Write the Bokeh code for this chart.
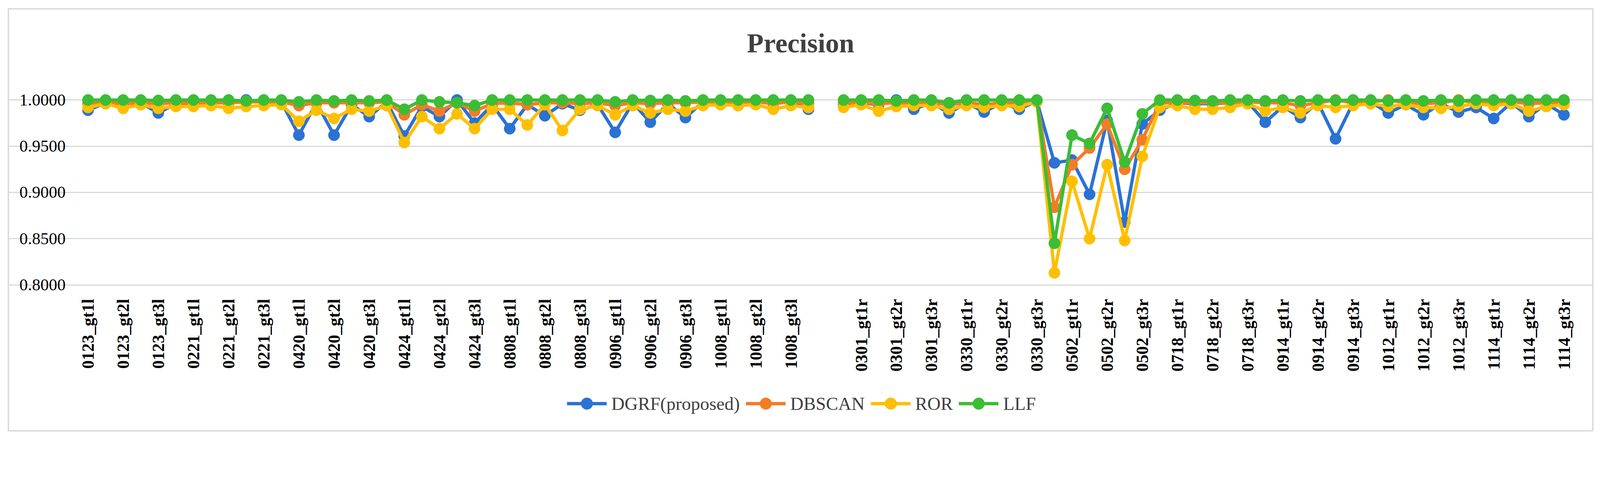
import math
import numpy as np
from bokeh.plotting import figure
from bokeh.models import (FixedTicker, Legend, LegendItem, Label, Range1d, PrintfTickFormatter)
from bokeh.embed import file_html
from bokeh.resources import INLINE

# categories (ICESat-2 tracks / beams)
dates_left = ["0123", "0221", "0420", "0424", "0808", "0906", "1008"]
dates_right = ["0301", "0330", "0502", "0718", "0914", "1012", "1114"]
beams = ["gt1l", "gt1r", "gt2l", "gt2r", "gt3l", "gt3r"]

# precision values
dgrf_left = [0.989, 0.997, 0.996, 0.997, 0.986, 0.996, 0.997, 0.997, 0.997, 1.000, 0.998, 0.998,
             0.962, 0.997, 0.962, 0.995, 0.982, 0.998, 0.961, 0.993, 0.982, 1.000, 0.975, 0.995,
             0.969, 0.995, 0.983, 0.996, 0.989, 0.995, 0.965, 0.997, 0.976, 0.996, 0.981, 0.998,
             0.998, 0.994, 0.998, 0.997, 0.998, 0.990]
dgrf_right = [0.995, 0.997, 0.995, 1.000, 0.990, 0.997, 0.986, 0.997, 0.987, 0.997, 0.990, 0.999,
              0.932, 0.935, 0.898, 0.978, 0.868, 0.974, 0.989, 0.997, 0.996, 0.996, 0.997, 0.998,
              0.976, 0.993, 0.981, 0.997, 0.958, 0.997, 0.998, 0.986, 0.995, 0.984, 0.996, 0.987,
              0.992, 0.980, 0.997, 0.982, 0.996, 0.984]

dbscan_left = [0.996, 0.997, 0.996, 0.997, 0.996, 0.997, 0.997, 0.997, 0.997, 0.998, 0.998, 0.998,
               0.994, 0.997, 0.997, 0.997, 0.997, 0.998, 0.984, 0.995, 0.988, 0.997, 0.988, 0.996,
               0.997, 0.995, 0.997, 0.997, 0.996, 0.997, 0.994, 0.997, 0.996, 0.997, 0.997, 0.998,
               0.998, 0.997, 0.998, 0.996, 0.998, 0.996]
dbscan_right = [0.997, 0.997, 0.996, 0.997, 0.996, 0.997, 0.995, 0.997, 0.995, 0.997, 0.997, 0.999,
                0.884, 0.930, 0.948, 0.974, 0.925, 0.957, 0.997, 0.997, 0.997, 0.997, 0.997, 0.998,
                0.997, 0.997, 0.994, 0.997, 1.000, 0.997, 0.998, 1.000, 0.997, 0.996, 0.997, 1.000,
                0.997, 0.997, 0.998, 0.996, 0.997, 0.997]

ror_left = [0.992, 0.996, 0.991, 0.995, 0.991, 0.993, 0.993, 0.994, 0.991, 0.993, 0.994, 0.995,
            0.977, 0.989, 0.980, 0.990, 0.988, 0.994, 0.954, 0.982, 0.969, 0.985, 0.969, 0.990,
            0.990, 0.973, 0.995, 0.967, 0.990, 0.994, 0.984, 0.994, 0.986, 0.990, 0.988, 0.994,
            0.995, 0.994, 0.995, 0.990, 0.994, 0.992]
ror_right = [0.992, 0.995, 0.988, 0.993, 0.994, 0.994, 0.990, 0.994, 0.992, 0.994, 0.993, 0.998,
             0.813, 0.912, 0.850, 0.930, 0.848, 0.939, 0.992, 0.994, 0.990, 0.990, 0.992, 0.996,
             0.988, 0.992, 0.986, 0.994, 0.992, 0.994, 0.996, 0.993, 0.995, 0.992, 0.991, 0.993,
             0.996, 0.994, 0.996, 0.988, 0.993, 0.995]

llf_left = [1.000, 1.000, 1.000, 1.000, 0.9995, 1.000, 1.000, 1.000, 1.000, 0.999, 1.000, 1.000,
            0.998, 1.000, 0.999, 1.000, 0.999, 1.000, 0.990, 1.000, 0.998, 0.997, 0.994, 1.000,
            1.000, 1.000, 1.000, 1.000, 1.000, 1.000, 0.998, 1.000, 0.9995, 1.000, 0.999, 1.000,
            1.000, 1.000, 1.000, 1.000, 1.000, 1.000]
llf_right = [1.000, 1.000, 1.000, 0.999, 1.000, 1.000, 0.997, 1.000, 1.000, 1.000, 1.000, 1.000,
             0.845, 0.962, 0.953, 0.991, 0.933, 0.985, 1.000, 1.000, 0.9995, 0.999, 1.000, 1.000,
             0.999, 1.000, 0.999, 1.000, 0.9995, 1.000, 1.000, 0.999, 1.000, 0.999, 1.000, 0.999,
             1.000, 1.000, 1.000, 1.000, 1.000, 1.000]

series_names = ["DGRF(proposed)", "DBSCAN", "ROR", "LLF"]
colors = ["#2a72d4", "#f47c26", "#ffbf00", "#3bbd35"]

y_ticks = [0.80, 0.85, 0.90, 0.95, 1.00]

# one empty slot between the two groups of tracks
categories = ([f"{d}_{b}" for d in dates_left for b in beams] + [""] +
              [f"{d}_{b}" for d in dates_right for b in beams])
x = np.arange(len(categories))
x_lo, x_hi = -0.5, len(categories) - 0.5

series = [dgrf_left + [np.nan] + dgrf_right,
          dbscan_left + [np.nan] + dbscan_right,
          ror_left + [np.nan] + ror_right,
          llf_left + [np.nan] + llf_right]

# the frame is the whole chart box (grey border); axes sit inside it
p = figure(width=4086, height=1120, output_backend="svg", toolbar_location=None,
           x_range=Range1d(-4.533, 85.64), y_range=Range1d(0.6421, 1.0987),
           min_border_left=21, min_border_right=9, min_border_top=22, min_border_bottom=18)
p.outline_line_color = "#d9d9d9"
p.outline_line_width = 3.7
p.background_fill_color = "white"
p.border_fill_color = "white"

p.xgrid.visible = False
p.ygrid.grid_line_color = "#d9d9d9"
p.ygrid.grid_line_width = 2.8
p.ygrid.ticker = FixedTicker(ticks=y_ticks)
p.ygrid.bounds = (x_lo, x_hi)

p.yaxis.fixed_location = x_lo
p.yaxis.ticker = FixedTicker(ticks=y_ticks)
p.yaxis.formatter = PrintfTickFormatter(format="%.4f")
p.yaxis.major_label_text_font = "Liberation Serif"
p.yaxis.major_label_text_font_size = "43px"
p.yaxis.major_label_text_color = "black"
p.yaxis.major_label_standoff = 29

# Excel shows every second category label
p.xaxis.fixed_location = 0.8
p.xaxis.ticker = FixedTicker(ticks=[i for i, c in enumerate(categories) if i % 2 == 0 and c])
p.xaxis.major_label_overrides = {int(i): c for i, c in enumerate(categories) if c}
p.xaxis.major_label_orientation = math.pi / 2
p.xaxis.major_label_text_font = "Liberation Serif"
p.xaxis.major_label_text_font_style = "bold"
p.xaxis.major_label_text_font_size = "43.5px"
p.xaxis.major_label_text_color = "black"
p.xaxis.major_label_standoff = 30

for ax in [p.xaxis, p.yaxis]:
    ax.axis_line_color = None
    ax.major_tick_line_color = None
    ax.minor_tick_line_color = None

items = []
for name, vals, c in zip(series_names, series, colors):
    y = np.array(vals, dtype=float)
    ln = p.line(x, y, line_color=c, line_width=8.4)
    pts = p.scatter(x, y, size=29, fill_color=c, line_color=c)
    items.append(LegendItem(label=name, renderers=[ln, pts]))

legend = Legend(items=items, orientation="horizontal", location=(1430, 32),
                glyph_width=102, glyph_height=75, label_height=75,
                label_standoff=12, spacing=15, padding=0, margin=0,
                border_line_color=None, background_fill_alpha=0,
                label_text_font="Liberation Serif", label_text_font_size="47px",
                label_text_color="#404040")
p.add_layout(legend, "center")

p.add_layout(Label(x=2028, y=992, x_units="screen", y_units="screen", text="Precision",
                   text_align="center", text_baseline="alphabetic",
                   text_font="Liberation Serif", text_font_style="bold",
                   text_font_size="70px", text_color="#404040"))

open("out.html", "w").write(file_html(p, INLINE))
